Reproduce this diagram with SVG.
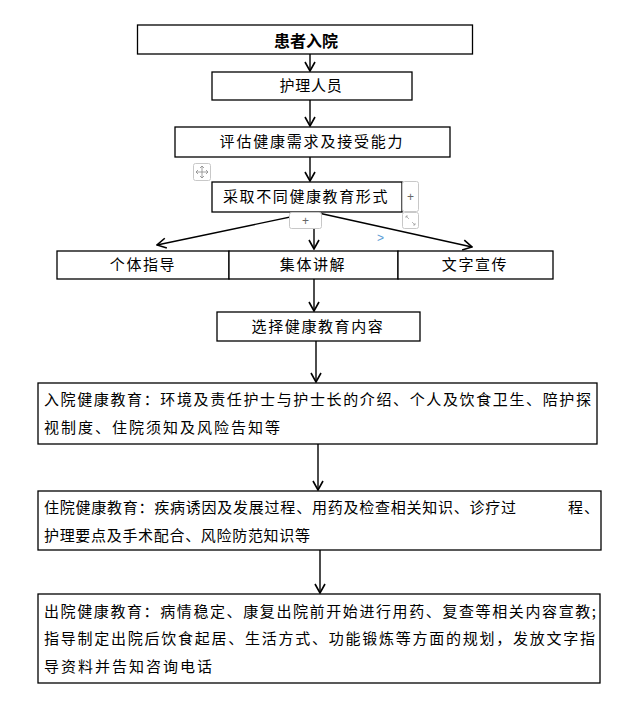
<svg xmlns="http://www.w3.org/2000/svg" width="630" height="716" viewBox="0 0 630 716">
<style>
  .box { fill: #fff; stroke: #000; stroke-width: 1.3; }
  .t { font-family: "Noto Sans CJK SC", "Noto Sans", sans-serif; font-size: 15px; fill: #000; }
  .c { text-anchor: middle; }
  .b { font-weight: bold; font-size: 16px; }
  .ln { fill: none; stroke: #000; stroke-width: 1.4; marker-end: url(#arr); }
  .ui { fill: #fff; stroke: #c8c8c8; stroke-width: 1; }
  .uit { font-family: "Liberation Sans", Arial, sans-serif; font-size: 12px; fill: #666; text-anchor: middle; }
</style>
<defs>
  <marker id="arr" viewBox="0 0 12 12" refX="11" refY="6" markerWidth="12" markerHeight="12" orient="auto" markerUnits="userSpaceOnUse">
    <path d="M2,1 L11,6 L2,11" fill="none" stroke="#000" stroke-width="1.6"/>
  </marker>
</defs>
<rect width="630" height="716" fill="#fff"/>

<g id="connectors">
  <line class="ln" x1="310" y1="54" x2="310" y2="71"/>
  <line class="ln" x1="310" y1="100" x2="310" y2="126"/>
  <line class="ln" x1="310" y1="157" x2="310" y2="181"/>
  <line class="ln" x1="314" y1="212" x2="157" y2="245"/>
  <line class="ln" x1="314" y1="212" x2="314" y2="249"/>
  <line class="ln" x1="314" y1="212" x2="472" y2="247"/>
  <line class="ln" x1="314" y1="279" x2="314" y2="311"/>
  <line class="ln" x1="316" y1="341" x2="316" y2="382"/>
  <line class="ln" x1="318" y1="444" x2="318" y2="490"/>
  <line class="ln" x1="320" y1="550" x2="320" y2="593"/>
</g>

<g id="n1">
  <rect class="box" x="137.5" y="25" width="335" height="29"/>
  <text class="t c b" x="306" y="47">患者入院</text>
</g>
<g id="n2">
  <rect class="box" x="212" y="72" width="200" height="28"/>
  <text class="t c" x="311" y="91" letter-spacing="0.8">护理人员</text>
</g>
<g id="n3">
  <rect class="box" x="175" y="127" width="275" height="30"/>
  <text class="t c" x="312" y="147" letter-spacing="1.8">评估健康需求及接受能力</text>
</g>
<g id="n4">
  <rect class="box" x="212" y="182" width="190" height="30"/>
  <text class="t c" x="306" y="202" letter-spacing="1.6">采取不同健康教育形式</text>
</g>
<g id="n5">
  <rect class="box" x="57" y="251" width="172" height="28"/>
  <text class="t c" x="143" y="270" letter-spacing="1.6">个体指导</text>
</g>
<g id="n6">
  <rect class="box" x="229" y="251" width="169" height="28"/>
  <text class="t c" x="313" y="270" letter-spacing="1.6">集体讲解</text>
</g>
<g id="n7">
  <rect class="box" x="398" y="251" width="155" height="28"/>
  <text class="t c" x="475" y="270" letter-spacing="1.6">文字宣传</text>
</g>
<g id="n8">
  <rect class="box" x="217" y="312" width="203" height="29"/>
  <text class="t c" x="318" y="332" letter-spacing="1.6">选择健康教育内容</text>
</g>
<g id="n9">
  <rect class="box" x="38" y="383" width="559" height="61"/>
  <text class="t" x="44" y="405" textLength="547" lengthAdjust="spacing">入院健康教育：环境及责任护士与护士长的介绍、个人及饮食卫生、陪护探</text>
  <text class="t" x="44" y="433" textLength="236" lengthAdjust="spacing">视制度、住院须知及风险告知等</text>
</g>
<g id="n10">
  <rect class="box" x="38" y="491" width="563" height="59"/>
  <text class="t" y="513"><tspan x="44" textLength="472" lengthAdjust="spacing">住院健康教育：疾病诱因及发展过程、用药及检查相关知识、诊疗过</tspan><tspan x="568" textLength="31" lengthAdjust="spacing">程、</tspan></text>
  <text class="t" x="44" y="541" textLength="266" lengthAdjust="spacing">护理要点及手术配合、风险防范知识等</text>
</g>
<g id="n11">
  <rect class="box" x="38" y="594" width="562" height="89"/>
  <text class="t" x="44" y="617" textLength="552" lengthAdjust="spacing">出院健康教育：病情稳定、康复出院前开始进行用药、复查等相关内容宣教;</text>
  <text class="t" x="44" y="644" textLength="551" lengthAdjust="spacing">指导制定出院后饮食起居、生活方式、功能锻炼等方面的规划，发放文字指</text>
  <text class="t" x="44" y="672" textLength="168" lengthAdjust="spacing">导资料并告知咨询电话</text>
</g>

<g id="ui-artifacts">
  <rect class="ui" x="193.5" y="163.5" width="17" height="17" rx="2"/>
  <path d="M202,166 v12 M196,172 h12 M200,168 l2,-2 l2,2 M200,176 l2,2 l2,-2 M198,170 l-2,2 l2,2 M206,170 l2,2 l-2,2" fill="none" stroke="#888" stroke-width="0.8"/>
  <rect class="ui" x="402.5" y="181.5" width="16" height="30" rx="2"/>
  <text class="uit" x="410.5" y="201">+</text>
  <rect class="ui" x="402.5" y="212.5" width="16" height="16" rx="2"/>
  <path d="M406,216 l3,3 M406,216 h2 M406,216 v2 M415,225 l-3,-3 M415,225 h-2 M415,225 v-2" fill="none" stroke="#999" stroke-width="0.7"/>
  <rect class="ui" x="289.5" y="212.5" width="32" height="16" rx="2"/>
  <text class="uit" x="305.5" y="225">+</text>
  <text x="377" y="242" font-family="Liberation Sans, Arial, sans-serif" font-size="12" fill="#5b9bd5">&gt;</text>
</g>
</svg>
